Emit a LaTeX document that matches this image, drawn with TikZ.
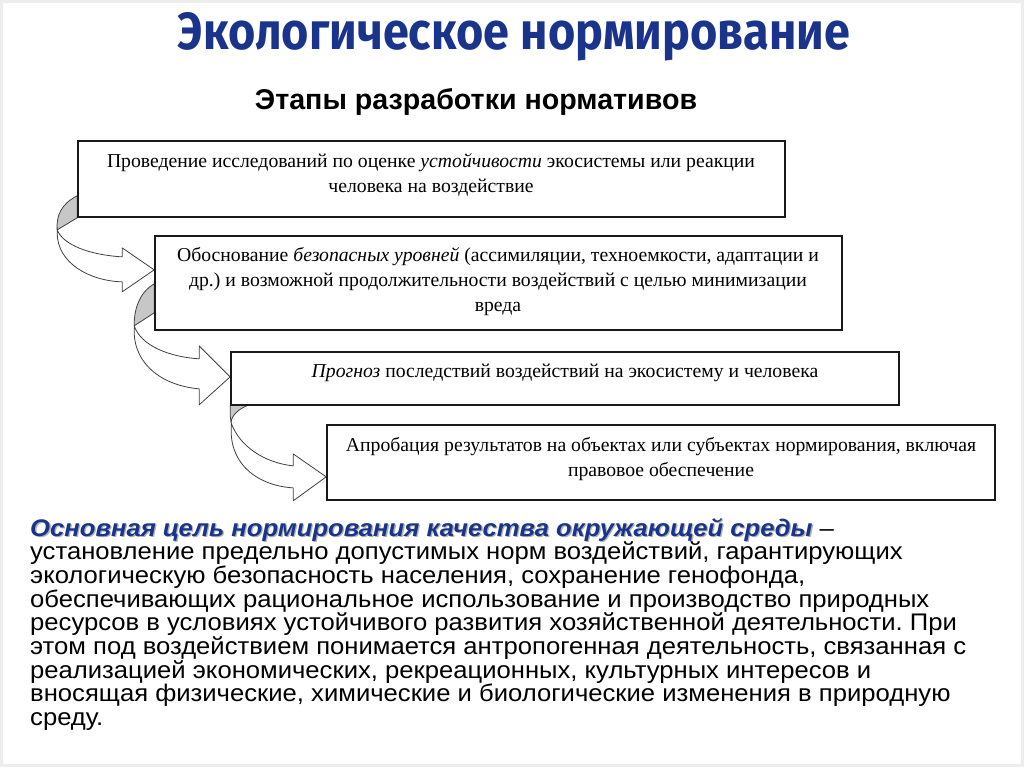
\documentclass[tikz,border=0pt]{standalone}
\usepackage{fontspec}
\setmainfont{Liberation Serif}
\newfontfamily\arial[FakeStretch=1.068]{Liberation Sans}
\newfontfamily\arialsub{Liberation Sans}
\newfontfamily\titlef{Fira Sans}
\usetikzlibrary{calc}
\pgfdeclarelayer{bg}
\pgfdeclarelayer{back}
\pgfsetlayers{back,bg,main}
\definecolor{tblue}{RGB}{26,52,140}
\frenchspacing
\newcommand{\headtxt}{\bfseries\itshape Основная цель нормирования качества окружающей среды}
\begin{document}
\begin{tikzpicture}[x=1pt,y=-1pt,
  box/.style={draw=black!90, line width=1.7pt, fill=white, rectangle, inner sep=0pt},
  boxtext/.style={align=center, inner sep=0pt, font=\fontsize{19.7}{25}\selectfont},
  rib/.style={draw=black!75, line width=0.8pt, fill=white, line join=round},
  ribback/.style={draw=black!75, line width=0.8pt, fill=black!22, line join=round},
  body/.style={anchor=base west, inner sep=0pt, font=\arial\fontsize{24}{23.7}\selectfont}]
\path[use as bounding box] (0,0) rectangle (1024,767);
\begin{pgfonlayer}{back}
\fill[white] (0,0) rectangle (1024,767);
\draw[black!7, line width=3pt] (1.5,1.5) rectangle (1022.5,765.5);
\end{pgfonlayer}

% title
\node[anchor=base, inner sep=0pt, text=tblue] (title) at (514,50)
  {\resizebox{672pt}{37pt}{\titlef\bfseries Экологическое нормирование}};
\node[anchor=base, inner sep=0pt] (sub) at (476,110)
  {\resizebox{442pt}{!}{\arialsub\bfseries Этапы разработки нормативов}};

% boxes
\node[box, minimum width=707pt, minimum height=76pt] (b1) at (431.5,179) {};
\node[box, minimum width=687pt, minimum height=94pt] (b2) at (498.5,283) {};
\node[box, minimum width=668pt, minimum height=53pt] (b3) at (565,378.5) {};
\node[box, minimum width=668pt, minimum height=75pt] (b4) at (661,462.5) {};

\node[boxtext] (t1) at (431,175) {Проведение исследований по оценке \textit{устойчивости} экосистемы или реакции\\человека на воздействие};
\node[boxtext] (t2) at (498,282) {Обоснование \textit{безопасных уровней} (ассимиляции, техноемкости, адаптации и\\др.) и возможной продолжительности воздействий с целью минимизации\\вреда};
\node[boxtext] (t3) at (565,373) {\textit{Прогноз} последствий воздействий на экосистему и человека};
\node[boxtext] (t4) at (661,459) {Апробация результатов на объектах или субъектах нормирования, включая\\правовое обеспечение};

% ribbon arrows (behind boxes)
\begin{pgfonlayer}{bg}
\begin{scope}[shift={(b1.south west)}]
  \draw[ribback] (0,-22) .. controls (-16,-14) and (-21,-2) .. (-20,12) -- (0,0) -- cycle;
  \draw[rib] (-20,12) .. controls (-14,27) and (12,37) .. (45,39) -- (45,30) -- (77,52) -- (45,74) -- (45,64)
     .. controls (12,63) and (-20,45) .. (-20,15) -- cycle;
\end{scope}
\begin{scope}[shift={(b2.south west)}]
  \draw[ribback] (0,-47) .. controls (-15,-38) and (-20,-22) .. (-20,-5) -- (0,-18) -- cycle;
  \draw[rib] (-20,-5) .. controls (-13,15) and (15,26) .. (45,28) -- (45,15) -- (76,46) -- (45,74) -- (45,58)
     .. controls (10,55) and (-20,35) .. (-20,0) -- cycle;
\end{scope}
\begin{scope}[shift={(b3.south west)}]
  \draw[ribback] (19,-1) .. controls (8,3) and (1,10) .. (1,17) -- (0,10) -- (0,-1) -- cycle;
  \draw[rib] (1,17) .. controls (9,40) and (34,57) .. (63,60) -- (63,48) -- (96,71) -- (63,95) -- (63,82)
     .. controls (29,80) and (1,60) .. (1,25) -- cycle;
\end{scope}
\end{pgfonlayer}

% body text
\node[body] (l1) at (30,536) {\rlap{\kern1.3pt\raisebox{-1.3pt}{\color{black!30}\headtxt}}{\color{tblue}\headtxt}~–};
\node[body] (l2) at (30,559.7) {установление предельно допустимых норм воздействий, гарантирующих};
\node[body] (l3) at (30,583.4) {экологическую безопасность населения, сохранение генофонда,};
\node[body] (l4) at (30,607.1) {обеспечивающих рациональное использование и производство природных};
\node[body] (l5) at (30,630.8) {ресурсов в условиях устойчивого развития хозяйственной деятельности. При};
\node[body] (l6) at (30,654.5) {этом под воздействием понимается антропогенная деятельность, связанная с};
\node[body] (l7) at (30,678.2) {реализацией экономических, рекреационных, культурных интересов и};
\node[body] (l8) at (30,701.9) {вносящая физические, химические и биологические изменения в природную};
\node[body] (l9) at (30,725.6) {среду.};
\end{tikzpicture}
\end{document}
